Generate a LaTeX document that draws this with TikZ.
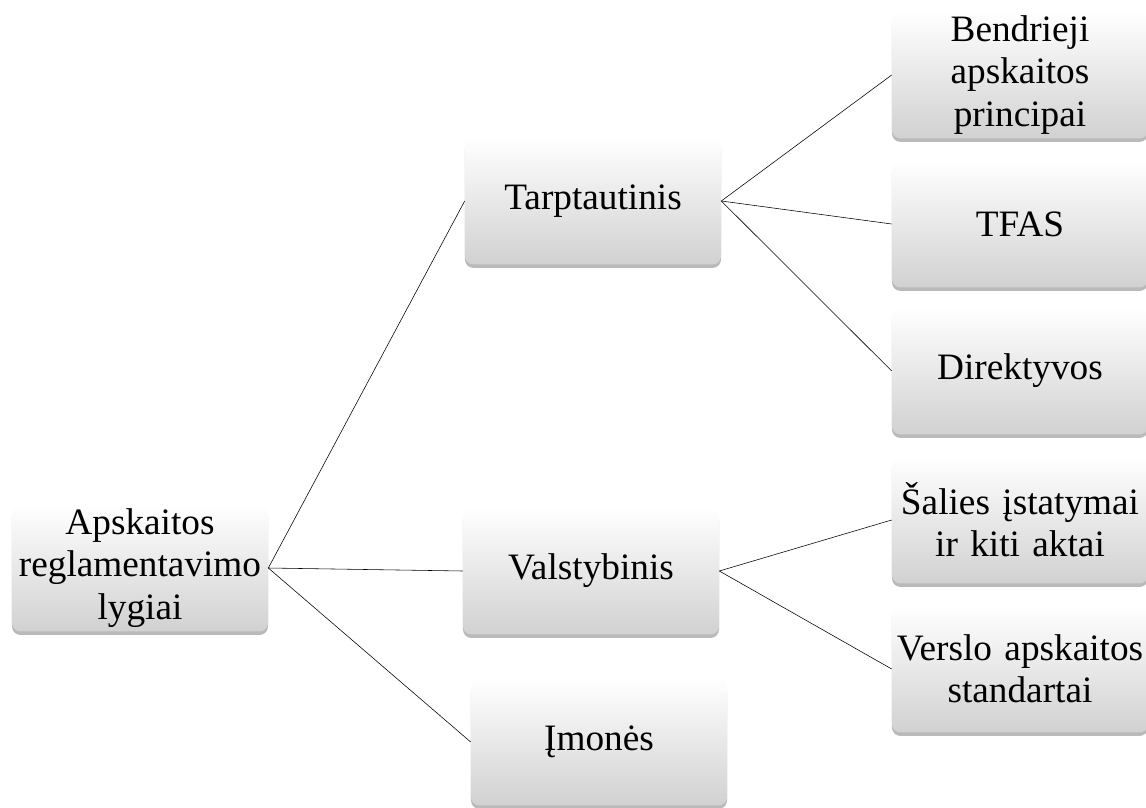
\documentclass[tikz,border=0pt]{standalone}
\usepackage{fontspec}
\setmainfont{Liberation Serif}
\usetikzlibrary{shadows}

\begin{document}
\begin{tikzpicture}[x=0.025cm, y=-0.025cm,
  box/.style = {rounded corners=6pt, top color=white, bottom color=black!18,
    drop shadow={shadow xshift=0pt, shadow yshift=-2.5pt, fill=black!45, opacity=.6},
    minimum width=6.4cm, minimum height=3.17cm, text width=6.3cm, align=center,
    inner sep=1pt, font=\fontsize{26.5}{30}\selectfont}]
  \useasboundingbox (0,0) rectangle (1146,808);
  % lygiai
  \node[box] (lygiai) at (140,568) {Apskaitos\\reglamentavimo\\lygiai};
  \node[box] (tarpt)  at (593,201) {Tarptautinis};
  \node[box] (valst)  at (591,571) {Valstybinis};
  \node[box] (imones) at (599,742) {Įmonės};
  % dokumentai
  \node[box] (bap)    at (1020,75)  {Bendrieji\\apskaitos\\principai};
  \node[box] (tfas)   at (1020,224) {TFAS};
  \node[box] (direkt) at (1020,371) {Direktyvos};
  \node[box] (istat)  at (1020,520) {Šalies įstatymai\\ir kiti aktai};
  \node[box] (vas)    at (1020,669) {Verslo apskaitos\\standartai};
  \foreach \a/\b in {lygiai/tarpt, lygiai/valst, lygiai/imones,
                     tarpt/bap, tarpt/tfas, tarpt/direkt,
                     valst/istat, valst/vas}
    \draw[thin] (\a.east) -- (\b.west);
\end{tikzpicture}
\end{document}
